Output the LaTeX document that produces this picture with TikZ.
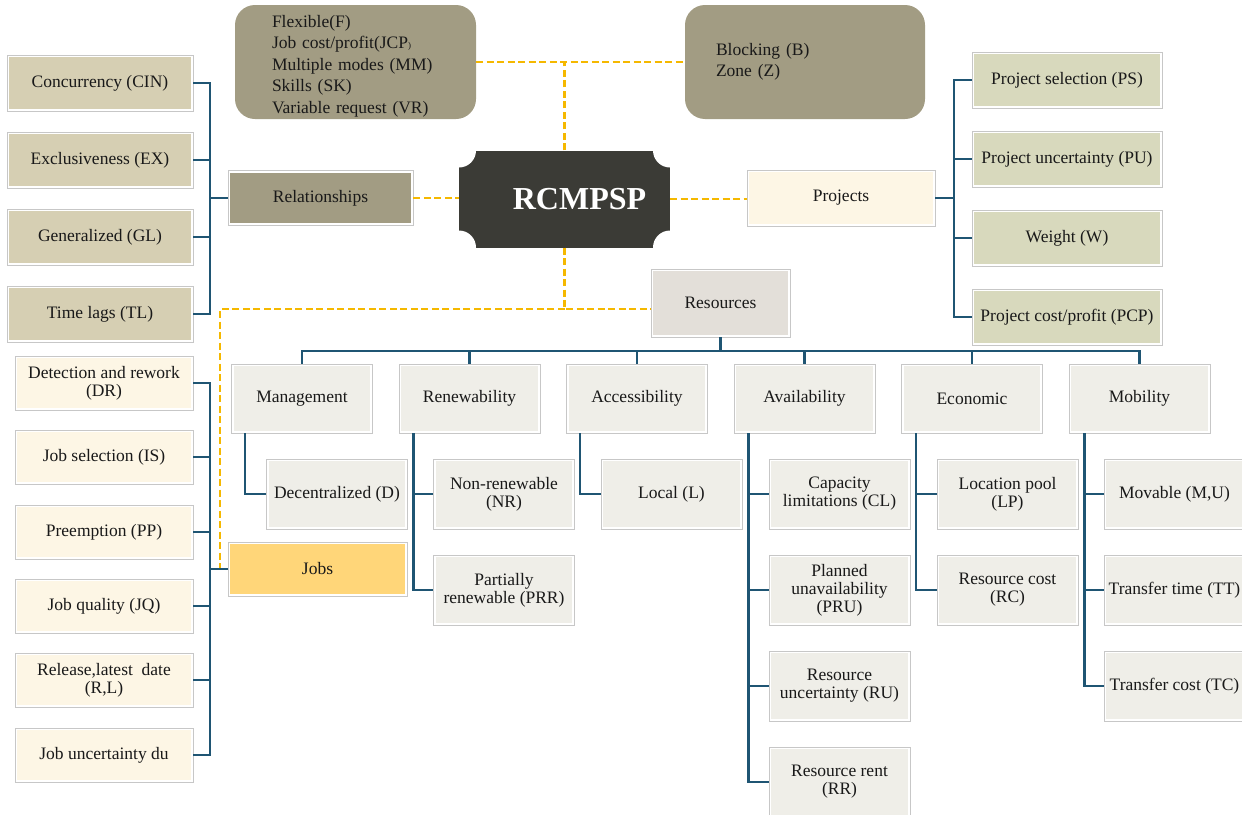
\documentclass[tikz,border=0pt]{standalone}
\usepackage{fontspec}
\setmainfont{Liberation Serif}
\usetikzlibrary{calc}
\definecolor{khaki}{HTML}{A29C83}
\definecolor{tanc}{HTML}{D6CFB3}
\definecolor{olivec}{HTML}{D8D9BD}
\definecolor{creamc}{HTML}{FDF6E5}
\definecolor{goldc}{HTML}{FFD679}
\definecolor{resc}{HTML}{E3DFD9}
\definecolor{catc}{HTML}{EFEEE8}
\definecolor{darkc}{HTML}{3B3B36}
\definecolor{busc}{HTML}{1F5573}
\definecolor{dashc}{HTML}{F5B800}
\newcommand\boxfont{\fontsize{17.5}{18}\selectfont}
\newcommand\topfont{\fontsize{17.5}{21.5}\selectfont}
\begin{document}
\begin{tikzpicture}[x=1pt,y=-1pt,
  cbox/.style={draw=black!22, line width=0.8pt, fill=white, inner sep=1pt, align=center, font=\boxfont, text=black!90,
    path picture={\fill[#1] ([xshift=2.3pt,yshift=-2.3pt]path picture bounding box.north west) rectangle ([xshift=-2.3pt,yshift=2.3pt]path picture bounding box.south east);}},
  sz/.style 2 args={minimum width=#1pt, minimum height=#2pt},
  bus/.style={draw=busc, line width=2.6pt, line join=miter},
  dsh/.style={draw=dashc, line width=2.2pt, dash pattern=on 7pt off 3.5pt},
  topbox/.style={fill=khaki, rounded corners=20pt, minimum height=114pt, inner ysep=0pt, align=left, font=\topfont, text=black!90}
]
\useasboundingbox (0,0) rectangle (1242,814);
\clip (0,0) rectangle (1242,814);

% ---- top boxes and centre
\node[topbox, text width=167pt, inner xsep=37pt] (tlb) at (355.5,62)
  {\rule{0pt}{20pt}Flexible(F)\\Job cost/profit(JCP{\small )}\\Multiple modes (MM)\\Skills (SK)\\Variable request (VR)};
\node[topbox, text width=178pt, inner xsep=31pt] (trb) at (805,62)
  {Blocking (B)\\Zone (Z)\\[2pt]};
\node[fill=darkc, minimum width=211pt, minimum height=97pt, inner sep=0pt, text=white,
  font=\fontsize{32}{36}\selectfont\bfseries,
  path picture={\foreach \c in {north west,north east,south west,south east}{\fill[white] (path picture bounding box.\c) circle[radius=17pt];}}]
  (rc) at (564.5,199) {\hspace*{30pt}RCMPSP};

% ---- relationships
\node[cbox=khaki, sz={185}{55}] (rel) at (320.5,198) {Relationships};
\node[cbox=tanc, sz={186}{56}] (cin) at (100,83) {Concurrency (CIN)};
\node[cbox=tanc, sz={186}{56}] (ex) at (100,160) {Exclusiveness (EX)};
\node[cbox=tanc, sz={186}{56}] (gl) at (100,237) {Generalized (GL)};
\node[cbox=tanc, sz={186}{56}] (tl) at (100,314) {Time lags (TL)};

% ---- projects
\node[cbox=creamc, sz={188}{56}] (proj) at (841,198) {Projects};
\node[cbox=olivec, sz={190}{56}] (ps) at (1067,80) {Project selection (PS)};
\node[cbox=olivec, sz={190}{56}] (pu) at (1067,159) {Project uncertainty (PU)};
\node[cbox=olivec, sz={190}{56}] (w) at (1067,238) {Weight (W)};
\node[cbox=olivec, sz={190}{56}] (pcp) at (1067,317) {Project cost/profit (PCP)};

% ---- resources
\node[cbox=resc, sz={139}{68}] (res) at (720.5,303) {Resources};
\node[cbox=catc, sz={141}{69}] (man) at (302,398.5) {Management};
\node[cbox=catc, sz={141}{69}] (ren) at (469.5,398.5) {Renewability};
\node[cbox=catc, sz={141}{69}] (acc) at (637,398.5) {Accessibility};
\node[cbox=catc, sz={141}{69}] (ava) at (804.5,398.5) {Availability};
\node[cbox=catc, sz={141}{69}] (eco) at (972,398.5) {Economic};
\node[cbox=catc, sz={141}{69}] (mob) at (1139.5,398.5) {Mobility};

\node[cbox=catc, sz={141}{70}] (dec) at (337,494) {Decentralized (D)};
\node[cbox=catc, sz={141}{70}] (nr) at (504,494) {Non-renewable\\(NR)};
\node[cbox=catc, sz={141}{70}] (prr) at (504,590) {Partially\\renewable (PRR)};
\node[cbox=catc, sz={141}{70}] (loc) at (671.5,494) {Local (L)};
\node[cbox=catc, sz={141}{70}] (cl) at (839.5,494) {Capacity\\limitations (CL)};
\node[cbox=catc, sz={141}{70}] (pru) at (839.5,590) {Planned\\unavailability\\(PRU)};
\node[cbox=catc, sz={141}{70}] (ru) at (839.5,686) {Resource\\uncertainty (RU)};
\node[cbox=catc, sz={141}{70}] (rr) at (839.5,782) {Resource rent\\(RR)};
\node[cbox=catc, sz={141}{70}] (lp) at (1007.5,494) {Location pool\\(LP)};
\node[cbox=catc, sz={141}{70}] (rcost) at (1007.5,590) {Resource cost\\(RC)};
\node[cbox=catc, sz={141}{70}] (mov) at (1174.5,494) {Movable (M,U)};
\node[cbox=catc, sz={141}{70}] (tt) at (1174.5,590) {Transfer time (TT)};
\node[cbox=catc, sz={141}{70}] (tc) at (1174.5,686) {Transfer cost (TC)};

% ---- jobs
\node[cbox=goldc, sz={179}{54}] (jobs) at (317.5,569) {Jobs};
\node[cbox=creamc, sz={178}{54}] (dr) at (104,383) {Detection and rework\\(DR)};
\node[cbox=creamc, sz={178}{54}] (is) at (104,457) {Job selection (IS)};
\node[cbox=creamc, sz={178}{54}] (pp) at (104,532) {Preemption (PP)};
\node[cbox=creamc, sz={178}{54}] (jq) at (104,606) {Job quality (JQ)};
\node[cbox=creamc, sz={178}{54}] (rl) at (104,680) {Release,latest\ \ date\\(R,L)};
\node[cbox=creamc, sz={178}{54}] (du) at (104,755) {Job uncertainty du};

% ---- bus coordinates
\coordinate (rb) at (210,0);
\coordinate (jb) at (210,0);
\coordinate (pb) at (954,0);
\coordinate (resb) at (0,351);
\coordinate (dj) at (564.5,309);
\coordinate (jd) at (220,309);

% ---- dashed connectors
\draw[dsh] (tlb.east) -- (trb.west);
\draw[dsh] (rc.north) -- (rc.north |- tlb.east);
\draw[dsh] (rel.east) -- (rel.east -| rc.west);
\draw[dsh] (rc.east) -- (rc.east -| proj.west);
\draw[dsh] (rc.south) -- (dj) -- (dj -| res.west);
\draw[dsh] (dj) -- (jd) -- (jobs.west -| jd);

% ---- relationships tree
\draw[bus] (cin.east) -- (cin.east -| rb) -- (tl.east -| rb) -- (tl.east);
\draw[bus] (ex.east) -- (ex.east -| rb);
\draw[bus] (gl.east) -- (gl.east -| rb);
\draw[bus] (rel.west) -- (rel.west -| rb);

% ---- projects tree
\draw[bus] (ps.west) -- (ps.west -| pb) -- (pcp.west -| pb) -- (pcp.west);
\draw[bus] (pu.west) -- (pu.west -| pb);
\draw[bus] (w.west) -- (w.west -| pb);
\draw[bus] (proj.east) -- (proj.east -| pb);

% ---- jobs tree
\draw[bus] (dr.east) -- (dr.east -| jb) -- (du.east -| jb) -- (du.east);
\draw[bus] (is.east) -- (is.east -| jb);
\draw[bus] (pp.east) -- (pp.east -| jb);
\draw[bus] (jq.east) -- (jq.east -| jb);
\draw[bus] (rl.east) -- (rl.east -| jb);
\draw[bus] (jobs.west) -- (jobs.west -| jb);

% ---- resources tree
\draw[bus] (res.south) -- (res.south |- resb);
\draw[bus] (man.north) -- (man.north |- resb) -- (mob.north |- resb) -- (mob.north);
\draw[bus] (ren.north) -- (ren.north |- resb);
\draw[bus] (acc.north) -- (acc.north |- resb);
\draw[bus] (ava.north) -- (ava.north |- resb);
\draw[bus] (eco.north) -- (eco.north |- resb);

\coordinate (manx) at ([xshift=14pt]man.south west);
\coordinate (renx) at ([xshift=15pt]ren.south west);
\coordinate (accx) at ([xshift=14pt]acc.south west);
\coordinate (avax) at ([xshift=15pt]ava.south west);
\coordinate (ecox) at ([xshift=15pt]eco.south west);
\coordinate (mobx) at ([xshift=16pt]mob.south west);

\draw[bus] (manx) |- (dec.west);
\draw[bus] (renx) |- (prr.west);
\draw[bus] (nr.west) -- (nr.west -| renx);
\draw[bus] (accx) |- (loc.west);
\draw[bus] (avax) |- (rr.west);
\draw[bus] (cl.west) -- (cl.west -| avax);
\draw[bus] (pru.west) -- (pru.west -| avax);
\draw[bus] (ru.west) -- (ru.west -| avax);
\draw[bus] (ecox) |- (rcost.west);
\draw[bus] (lp.west) -- (lp.west -| ecox);
\draw[bus] (mobx) |- (tc.west);
\draw[bus] (mov.west) -- (mov.west -| mobx);
\draw[bus] (tt.west) -- (tt.west -| mobx);
\end{tikzpicture}
\end{document}
